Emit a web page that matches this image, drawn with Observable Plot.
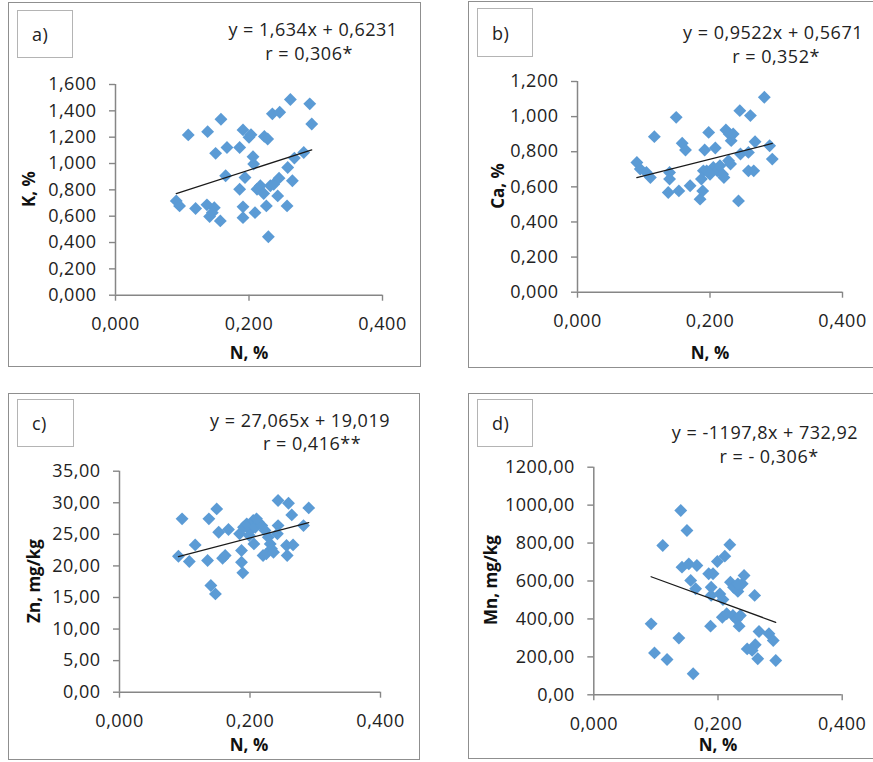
<!DOCTYPE html>
<html><head><meta charset="utf-8">
<script src="https://cdn.jsdelivr.net/npm/d3@7"></script>
<script src="https://cdn.jsdelivr.net/npm/@observablehq/plot@0.6"></script>
<style>
body{margin:0;background:#fff;}
#page{position:relative;width:873px;height:762px;overflow:hidden;font-family:"Open Sans",sans-serif;color:#222;}
.frame{position:absolute;border:1.5px solid #8f8f8f;box-sizing:border-box;}
.lbl{position:absolute;border:1.5px solid #b4b4b4;box-sizing:border-box;font-size:18px;display:flex;align-items:center;padding-left:14px;letter-spacing:0.5px;}
.t{position:absolute;transform:translate(-50%,-50%);white-space:nowrap;font-size:18px;letter-spacing:0.5px;line-height:1;}
.b{font-weight:bold;font-size:17px;letter-spacing:0;color:#111;}
.rot{transform:translate(-50%,-50%) rotate(-90deg);}
</style>
</head><body>
<div id="page"></div>
<script>
// ---------- data ----------
const xTicks = [0, 0.2, 0.4];

// a) K vs N
const nK = [0.109,0.138,0.158,0.191,0.200,0.203,0.223,0.228,0.235,0.246,0.262,0.291,0.294,0.150,0.167,0.186,0.206,0.207,0.165,0.194,0.186,0.212,0.217,0.222,0.232,0.237,0.245,0.258,0.265,0.268,0.282,0.243,0.257,0.226,0.209,0.191,0.191,0.229,0.091,0.096,0.120,0.137,0.148,0.141,0.157,0.145];
const kVals = [1.217,1.242,1.336,1.255,1.199,1.219,1.206,1.186,1.377,1.389,1.486,1.453,1.300,1.077,1.122,1.122,1.051,0.996,0.907,0.894,0.805,0.805,0.831,0.772,0.831,0.843,0.889,0.970,0.869,1.041,1.084,0.754,0.678,0.678,0.627,0.671,0.589,0.444,0.716,0.678,0.658,0.686,0.665,0.597,0.564,0.627];
const kTicks = [0,0.2,0.4,0.6,0.8,1.0,1.2,1.4,1.6];

// b) Ca vs N
const nCa = [0.0896,0.0947,0.104,0.110,0.116,0.139,0.139,0.137,0.149,0.153,0.158,0.163,0.170,0.185,0.189,0.187,0.190,0.192,0.198,0.208,0.205,0.211,0.215,0.219,0.221,0.224,0.229,0.232,0.235,0.228,0.231,0.243,0.245,0.246,0.258,0.258,0.266,0.261,0.268,0.282,0.290,0.294,0.195,0.200];
const caVals = [0.739,0.701,0.682,0.653,0.886,0.682,0.644,0.568,0.996,0.577,0.848,0.810,0.606,0.530,0.577,0.644,0.691,0.810,0.910,0.821,0.710,0.691,0.720,0.672,0.653,0.924,0.901,0.863,0.901,0.749,0.730,0.520,1.034,0.787,0.796,0.691,0.691,1.006,0.857,1.110,0.834,0.758,0.691,0.672];
const caTicks = [0,0.2,0.4,0.6,0.8,1.0,1.2];

// c) Zn vs N
const nZn = [0.0959,0.0903,0.107,0.116,0.135,0.137,0.149,0.152,0.158,0.162,0.167,0.140,0.147,0.187,0.187,0.189,0.184,0.190,0.195,0.200,0.205,0.208,0.213,0.218,0.206,0.223,0.228,0.231,0.233,0.220,0.225,0.236,0.243,0.242,0.243,0.259,0.264,0.256,0.257,0.266,0.282,0.290,0.199,0.210];
const znVals = [27.45,21.54,20.69,23.33,20.85,27.45,29.03,25.34,21.22,21.64,25.76,16.89,15.57,22.44,20.59,18.90,25.08,26.13,26.66,25.60,27.19,26.13,26.92,26.39,23.49,25.60,24.55,23.49,22.70,21.64,21.91,22.17,26.39,25.08,30.35,29.93,28.08,23.23,21.64,23.33,26.39,29.19,24.81,27.45];
const znTicks = [0,5,10,15,20,25,30,35];

// d) Mn vs N
const nMn = [0.0923,0.0977,0.118,0.111,0.137,0.140,0.150,0.142,0.153,0.166,0.156,0.164,0.160,0.185,0.192,0.189,0.189,0.199,0.211,0.219,0.203,0.208,0.188,0.207,0.214,0.220,0.225,0.232,0.239,0.242,0.224,0.230,0.234,0.236,0.259,0.266,0.260,0.247,0.255,0.264,0.282,0.289,0.293,0.232];
const mnVals = [374,221,186,787,299,972,866,673,690,682,603,559,111,638,638,567,524,703,731,791,532,502,362,409,427,594,567,545,585,629,418,397,362,418,524,334,264,242,234,190,322,286,181,585];
const mnTicks = [0,200,400,600,800,1000,1200];

// equations
const panelLabels = ["a)", "b)", "c)", "d)"];
const slopes = [1.634, 0.9522, 27.065, -1197.8];
const intercepts = [0.6231, 0.5671, 19.019, 732.92];
const eqLines = ["y = 1,634x + 0,6231", "y = 0,9522x + 0,5671", "y = 27,065x + 19,019", "y = -1197,8x + 732,92"];
const rLines = ["r = 0,306*", "r = 0,352*", "r = 0,416**", "r = - 0,306*"];
const yTitles = ["K, %", "Ca, %", "Zn, mg/kg", "Mn, mg/kg"];
const xTitle = "N, %";

// ---------- layout (page pixels) ----------
const layout = [
  {frame:[8,2,421,367], plot:[115,382,84,294.7], lbl:[17,10,73,58], eq:[[313,29],[309,53]], yt:[28,189], xt:[249,352], dec:3},
  {frame:[468,1,880,368], plot:[577,842,81,291.7], lbl:[477,8,533,57], eq:[[773,32],[776,56]], yt:[497,186], xt:[710,352], dec:3},
  {frame:[8,393,420,760], plot:[119,380,470.7,691.7], lbl:[17,399,74,447], eq:[[300,420],[312,443]], yt:[33,581], xt:[249,744], dec:2},
  {frame:[468,393,880,759], plot:[593.3,841.7,466.7,694.3], lbl:[477,399,533,447], eq:[[765,432],[769,456]], yt:[490,580], xt:[718,744], dec:2}
];
const xsAll = [nK, nCa, nZn, nMn];
const ysAll = [kVals, caVals, znVals, mnVals];
const yTicksAll = [kTicks, caTicks, znTicks, mnTicks];

const page = document.getElementById("page");
const fmtX = d => d.toFixed(3).replace(".", ",");
const AX = "#868686";

function addText(txt, x, y, cls) {
  const el = document.createElement("div");
  el.className = cls;
  el.textContent = txt;
  el.style.left = x + "px";
  el.style.top = y + "px";
  page.appendChild(el);
}

layout.forEach((L, i) => {
  const fr = document.createElement("div");
  fr.className = "frame";
  fr.style.left = L.frame[0] + "px"; fr.style.top = L.frame[1] + "px";
  fr.style.width = (L.frame[2] - L.frame[0]) + "px"; fr.style.height = (L.frame[3] - L.frame[1]) + "px";
  page.appendChild(fr);

  const svgL = L.frame[0], svgT = L.frame[1];
  const svgW = Math.min(L.frame[2], 873) - svgL, svgH = L.frame[3] - svgT;
  const xs = xsAll[i], ys = ysAll[i];
  const data = xs.map((x, j) => ({x, y: ys[j]}));
  const ext = d3.extent(xs);
  const trend = ext.map(x => ({x, y: slopes[i] * x + intercepts[i]}));
  const yt = yTicksAll[i];
  const fmtY = d => d.toFixed(L.dec).replace(".", ",");

  const chart = Plot.plot({
    width: svgW, height: svgH,
    marginLeft: L.plot[0] - svgL, marginRight: svgL + svgW - L.plot[1],
    marginTop: L.plot[2] - svgT, marginBottom: svgT + svgH - L.plot[3],
    x: {domain: [0, 0.4]},
    y: {domain: [0, yt[yt.length - 1]]},
    style: {background: "transparent", fontFamily: "'Open Sans', sans-serif", fontSize: "18px", letterSpacing: "0.5px", color: "#222", overflow: "visible"},
    marks: [
      Plot.axisX(xTicks, {tickFormat: fmtX, tickSize: 6, tickPadding: 16, stroke: AX, strokeWidth: 1.4, fill: "#222", label: null}),
      Plot.axisY(yt, {tickFormat: fmtY, tickSize: 6, tickPadding: 13, stroke: AX, strokeWidth: 1.4, fill: "#222", label: null}),
      Plot.ruleY([0], {stroke: AX, strokeWidth: 1.5}),
      Plot.ruleX([0], {stroke: AX, strokeWidth: 1.5}),
      Plot.dot(data, {x: "x", y: "y", symbol: "diamond2", r: 5.8, fill: "#5B9BD5"}),
      Plot.line(trend, {x: "x", y: "y", stroke: "#1a1a1a", strokeWidth: 1.3})
    ]
  });
  chart.style.position = "absolute";
  chart.style.left = svgL + "px";
  chart.style.top = svgT + "px";
  page.appendChild(chart);

  const lb = document.createElement("div");
  lb.className = "lbl";
  lb.textContent = panelLabels[i];
  lb.style.left = L.lbl[0] + "px"; lb.style.top = L.lbl[1] + "px";
  lb.style.width = (L.lbl[2] - L.lbl[0]) + "px"; lb.style.height = (L.lbl[3] - L.lbl[1]) + "px";
  page.appendChild(lb);

  addText(eqLines[i], L.eq[0][0], L.eq[0][1], "t");
  addText(rLines[i], L.eq[1][0], L.eq[1][1], "t");
  addText(yTitles[i], L.yt[0], L.yt[1], "t b rot");
  addText(xTitle, L.xt[0], L.xt[1], "t b");
});
</script>
</body></html>
